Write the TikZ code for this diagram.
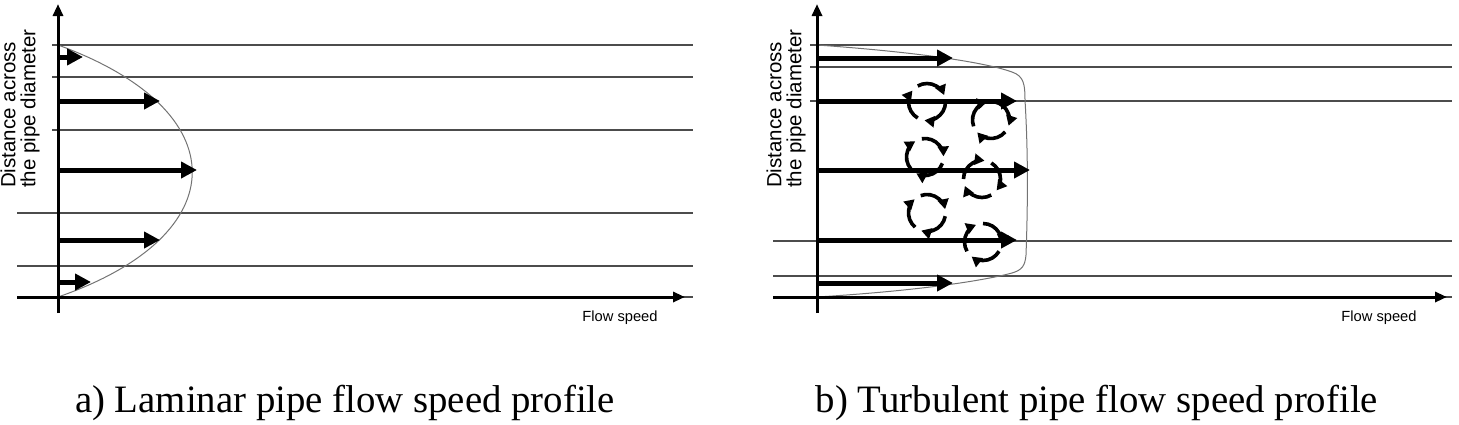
\documentclass[tikz,border=0pt]{standalone}
\usepackage{fontspec}
\setmainfont{Liberation Serif}
\setsansfont{Liberation Sans}
\usetikzlibrary{arrows.meta}
\begin{document}
\begin{tikzpicture}[x=1pt, y=-1pt,
  axis/.style={line width=3pt, -{Triangle[length=12pt,width=10pt]}},
  gridline/.style={line width=1.1pt, black!70},
  flow/.style={line width=5pt, -{Triangle[length=16pt,width=16pt]}},
  profile/.style={line width=1pt, black!55},
  eddy/.style={line width=3.6pt, -{Triangle[length=10pt,width=11pt]}},
  axlabel/.style={rotate=90, anchor=west, inner sep=0pt, align=left,
    font=\sffamily\fontsize{20.5}{20}\selectfont},
  speedlabel/.style={inner sep=0pt, font=\sffamily\fontsize{14.7}{16}\selectfont},
  caption/.style={anchor=base, inner sep=0pt, font=\fontsize{38.8}{44}\selectfont}
]
\useasboundingbox (0,0) rectangle (1459,424);

% a) laminar
\foreach \y in {45,77,130} \draw[gridline] (52,\y) -- (693,\y);
\foreach \y in {213,266,297} \draw[gridline] (17,\y) -- (693,\y);
\draw[profile] (58,45) .. controls (237,110) and (237,235) .. (58,297);
\foreach \y/\tip in {57/83, 101/160, 170/197, 240/160, 282/91}
  \draw[flow] (58,\y) -- (\tip,\y);
\draw[axis] (17,297) -- (685,297);
\draw[axis] (58,313) -- (58,4);
\node[axlabel] (distA) at (20,188) {Distance across\\the pipe diameter};
\node[speedlabel] (speedA) at (620,318) {Flow speed};
\node[caption] (capA) at (345,412) {a) Laminar pipe flow speed profile};

% b) turbulent
\foreach \y in {45,67,101} \draw[gridline] (810,\y) -- (1452,\y);
\foreach \y in {241,276,297} \draw[gridline] (773,\y) -- (1452,\y);
\draw[profile] (817,45) .. controls (930,53) and (990,64) .. (1012,72)
  .. controls (1024,76) and (1025,85) .. (1025,100)
  .. controls (1028,150) and (1028,200) .. (1026,255)
  .. controls (1025,266) and (1022,270) .. (1012,273)
  .. controls (990,279) and (930,290) .. (817,297);
\foreach \y/\tip in {58/953, 101/1017, 170/1030, 240/1017, 283/953}
  \draw[flow] (817,\y) -- (\tip,\y);
\foreach \cx/\cy/\r in {927/102/0, 991/120/40, 925/157/20, 982/179/60, 927/213/10, 983/242/30}
  \foreach \a in {0,120,240}
    \draw[eddy] ([shift={(\a+\r:18.5)}]\cx,\cy) arc[start angle=\a+\r, end angle=\a+\r+98, radius=18.5];
\draw[axis] (773,297) -- (1447,297);
\draw[axis] (817,313) -- (817,4);
\node[axlabel] (distB) at (786,188) {Distance across\\the pipe diameter};
\node[speedlabel] (speedB) at (1379,318) {Flow speed};
\node[caption] (capB) at (1097,412) {b) Turbulent pipe flow speed profile};
\end{tikzpicture}
\end{document}
